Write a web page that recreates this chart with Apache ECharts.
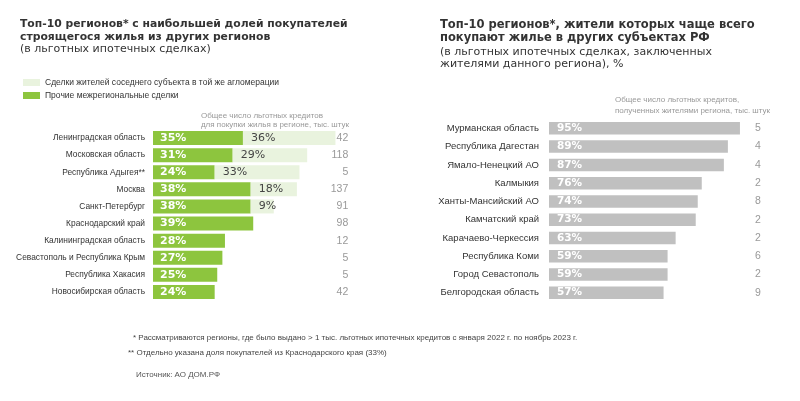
<!DOCTYPE html>
<html><head><meta charset="utf-8">
<script src="https://cdn.jsdelivr.net/npm/echarts@6/dist/echarts.min.js"></script>
<style>html,body{margin:0;padding:0;background:#fff}#c{width:800px;height:401px}</style>
</head><body><div id="c"></div>
<script>
const leftCats = ['Ленинградская область','Московская область','Республика Адыгея**','Москва','Санкт-Петербург','Краснодарский край','Калининградская область','Севастополь и Республика Крым','Республика Хакасия','Новосибирская область'];
const leftOther = [35,31,24,38,38,39,28,27,25,24];
const leftAgglo = [36,29,33,18,9,null,null,null,null,null];
const leftCounts = [42,118,5,137,91,98,12,5,5,42];

const rightCats = ['Мурманская область','Республика Дагестан','Ямало-Ненецкий АО','Калмыкия','Ханты-Мансийский АО','Камчатский край','Карачаево-Черкессия','Республика Коми','Город Севастополь','Белгородская область'];
const rightVals = [95,89,87,76,74,73,63,59,59,57];
const rightCounts = [5,4,4,2,8,2,2,6,2,9];

const legendNames = ['Сделки жителей соседнего субъекта в той же агломерации','Прочие межрегиональные сделки'];

const GREEN = '#8dc53e', LIGHT = '#e9f3de', GREY = '#c0c0c0';
const TF = 'DejaVu Sans';
const LF = 'Liberation Sans';

const chart = echarts.init(document.getElementById('c'), null, {renderer:'canvas'});
chart.setOption({
  animation:false,
  backgroundColor:'#fff',
  legend:{
    data:[legendNames[0], legendNames[1]],
    orient:'vertical', left:18, top:73, itemWidth:17, itemHeight:7, itemGap:4,
    icon:'rect',
    textStyle:{fontFamily:LF, fontSize:8.5, color:'#333', padding:[0,0,0,0]},
    selectedMode:false
  },
  grid:[
    {left:153, top:129.5, width:195.3, height:171, containLabel:false},
    {left:549, top:119.2, width:201, height:182.7, containLabel:false}
  ],
  xAxis:[
    {gridIndex:0, type:'value', min:0, max:76, show:false},
    {gridIndex:1, type:'value', min:0, max:100, show:false}
  ],
  yAxis:[
    {gridIndex:0, type:'category', data:leftCats, inverse:true, axisLine:{show:false}, axisTick:{show:false},
     axisLabel:{fontFamily:LF, fontSize:8.4, color:'#333', margin:8}},
    {gridIndex:0, type:'category', data:leftCounts, inverse:true, position:'right', axisLine:{show:false}, axisTick:{show:false},
     axisLabel:{fontFamily:LF, fontSize:10.5, color:'#999', margin:0, align:'right'}},
    {gridIndex:1, type:'category', data:rightCats, inverse:true, axisLine:{show:false}, axisTick:{show:false},
     axisLabel:{fontFamily:LF, fontSize:9.5, color:'#333', margin:10}},
    {gridIndex:1, type:'category', data:rightCounts, inverse:true, position:'right', axisLine:{show:false}, axisTick:{show:false},
     axisLabel:{fontFamily:LF, fontSize:10.5, color:'#999', margin:8, align:'center'}}
  ],
  series:[
    {name:legendNames[1], type:'bar', stack:'l', xAxisIndex:0, yAxisIndex:0, data:leftOther, barWidth:14,
     itemStyle:{color:GREEN},
     label:{show:true, position:'insideLeft', offset:[2,0], formatter:'{c}%', color:'#fff', fontFamily:TF, fontWeight:'bold', fontSize:11}},
    {name:legendNames[0], type:'bar', stack:'l', xAxisIndex:0, yAxisIndex:0, data:leftAgglo, barWidth:14,
     itemStyle:{color:LIGHT},
     label:{show:true, position:'insideLeft', offset:[3,0], formatter:'{c}%', color:'#444', fontFamily:TF, fontSize:11}},
    {name:'r', type:'bar', xAxisIndex:1, yAxisIndex:2, data:rightVals, barWidth:12.5,
     itemStyle:{color:GREY},
     label:{show:true, position:'insideLeft', offset:[3,0], formatter:'{c}%', color:'#fff', fontFamily:TF, fontWeight:'bold', fontSize:10.5}}
  ],
  graphic:[
    {type:'text', left:20, top:18, style:{text:'Топ-10 регионов* с наибольшей долей покупателей\nстроящегося жилья из других регионов', font:'bold 10.8px "DejaVu Sans"', fill:'#333', lineHeight:12.7}},
    {type:'text', left:20, top:42.5, style:{text:'(в льготных ипотечных сделках)', font:'11px "DejaVu Sans"', fill:'#333', lineHeight:13}},
    {type:'text', right:451, top:111, style:{text:'Общее число льготных кредитов\nдля покупки жилья в регионе, тыс. штук', font:'8px "Liberation Sans"', fill:'#999', align:'right', lineHeight:9.5}},
    {type:'text', left:440, top:19, style:{text:'Топ-10 регионов*, жители которых чаще всего\nпокупают жилье в других субъектах РФ', font:'bold 11.5px "DejaVu Sans"', fill:'#333', lineHeight:12.5}},
    {type:'text', left:440, top:45.5, style:{text:'(в льготных ипотечных сделках, заключенных\nжителями данного региона), %', font:'11px "DejaVu Sans"', fill:'#333', lineHeight:12.5}},
    {type:'text', right:30, top:95, style:{text:'Общее число льготных кредитов,\nполученных жителями региона, тыс. штук', font:'8px "Liberation Sans"', fill:'#999', align:'right', lineHeight:10.5}},
    {type:'text', left:133, top:334, style:{text:'* Рассматриваются регионы, где было выдано > 1 тыс. льготных ипотечных кредитов с января 2022 г. по ноябрь 2023 г.', font:'8px "Liberation Sans"', fill:'#444'}},
    {type:'text', left:128, top:348.5, style:{text:'** Отдельно указана доля покупателей из Краснодарского края (33%)', font:'8px "Liberation Sans"', fill:'#444'}},
    {type:'text', left:136, top:371, style:{text:'Источник: АО ДОМ.РФ', font:'8px "Liberation Sans"', fill:'#555'}}
  ]
});
</script></body></html>
